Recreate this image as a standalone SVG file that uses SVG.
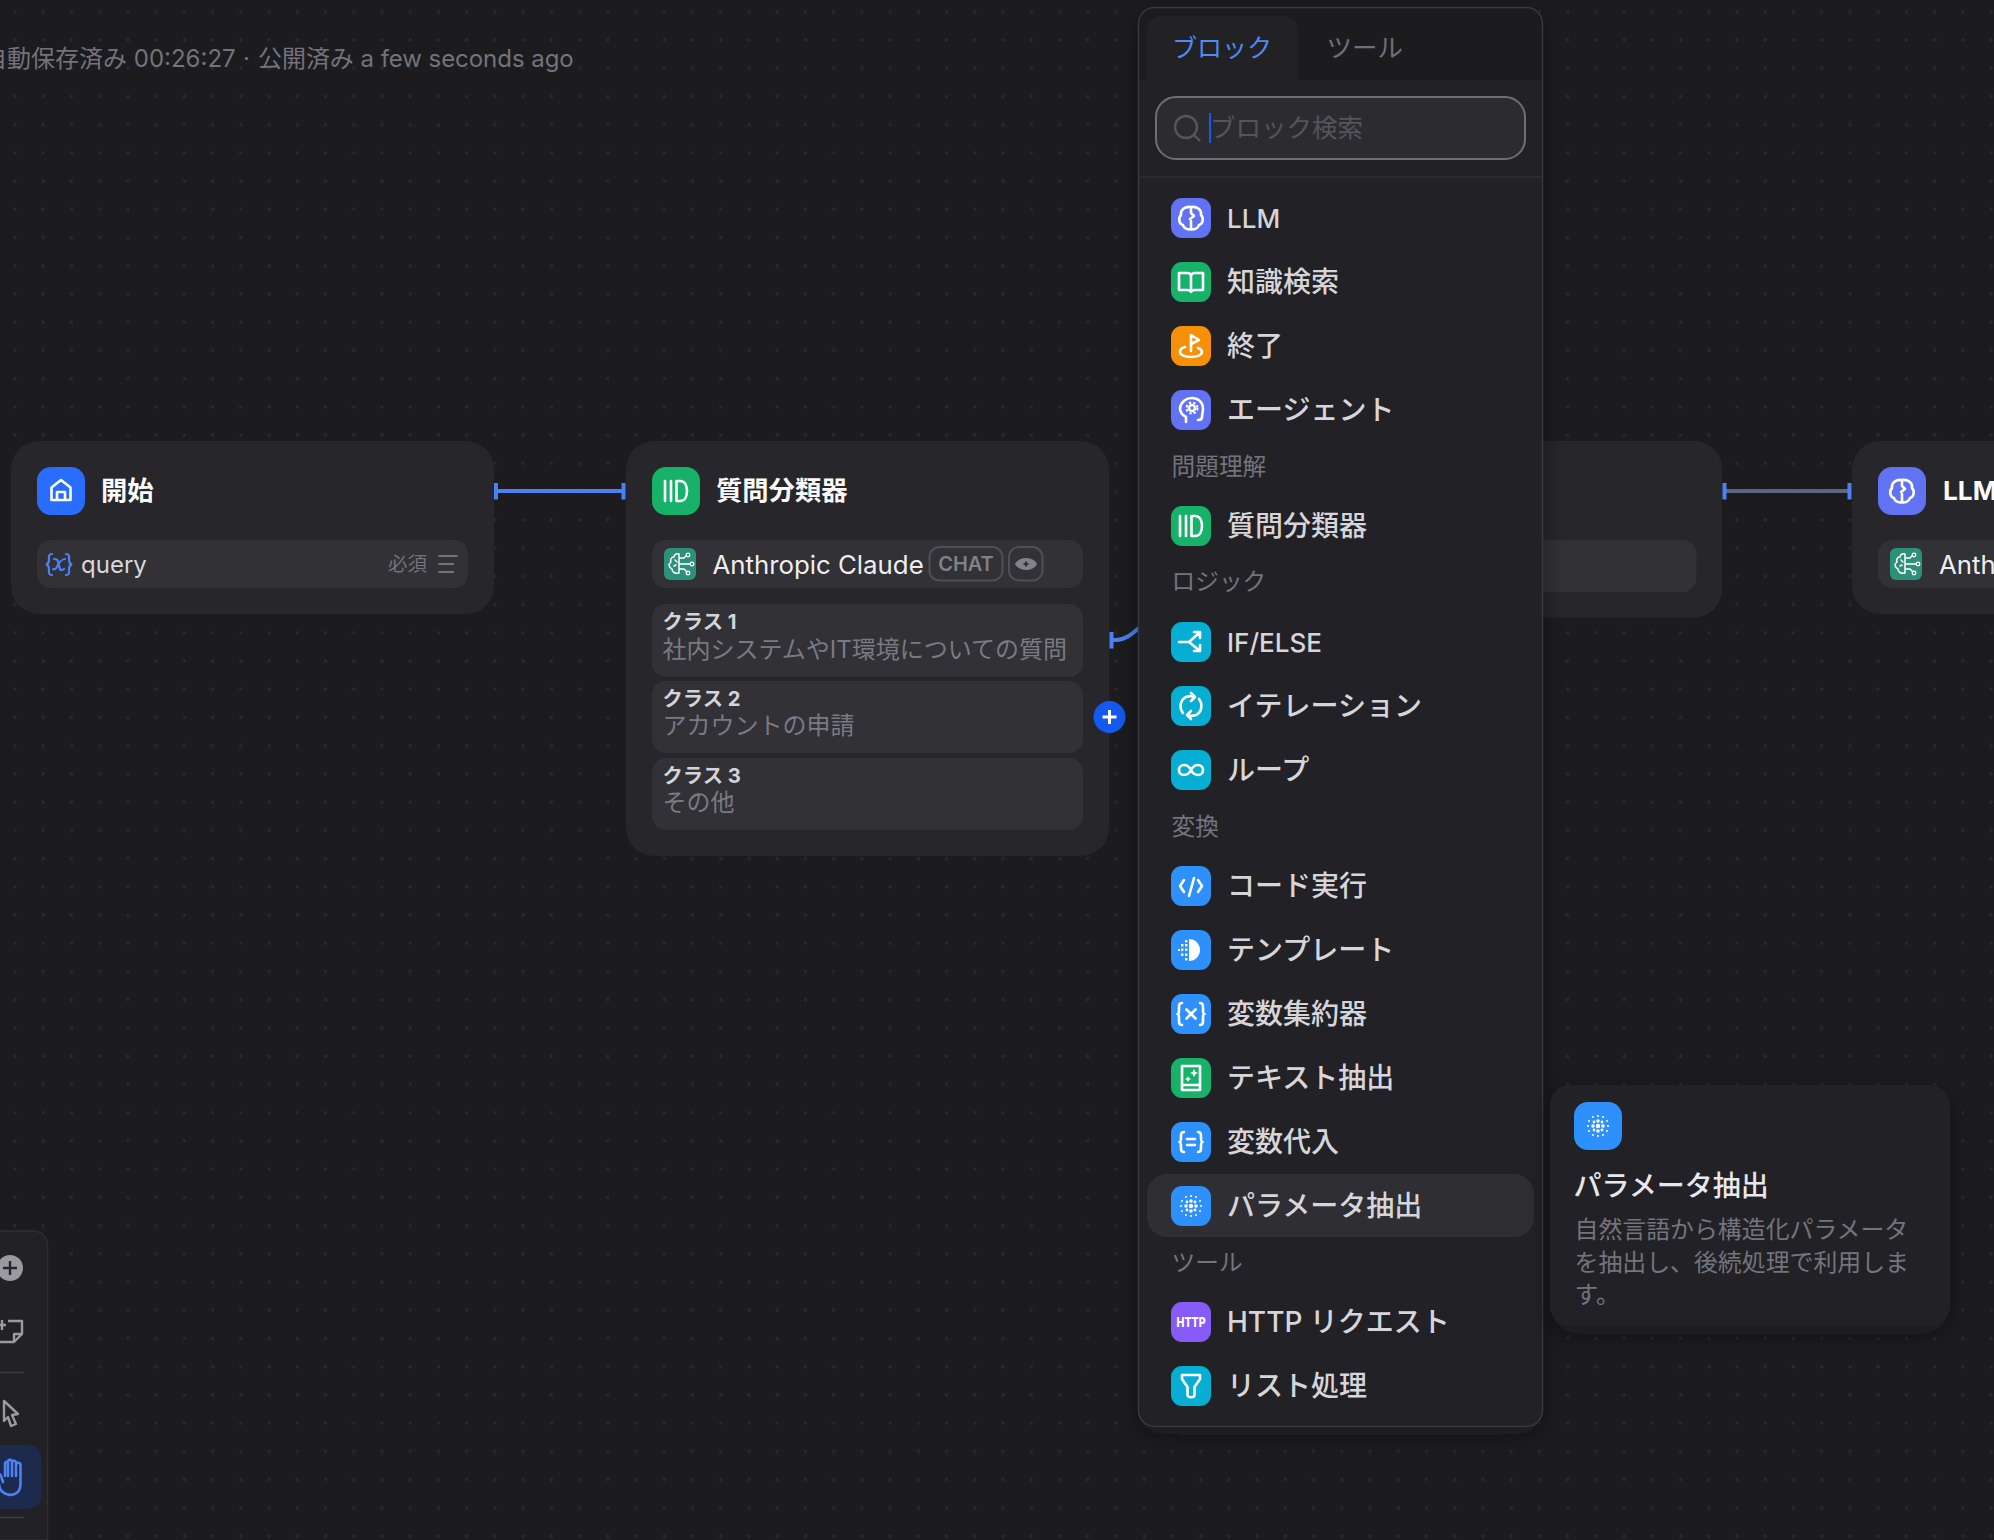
<svg xmlns="http://www.w3.org/2000/svg" width="1994" height="1540" viewBox="0 0 1994 1540">
<style>
text{font-family:Inter,"Noto Sans CJK JP","Noto Sans",sans-serif}
.node{fill:#27272b}
.row{fill:#313136}
.title{font-size:26.300px;font-weight:700;fill:#fafafa}
.item{font-size:28px;font-weight:500;fill:#d6d6da}
.lat{font-size:26px}
.sec{font-size:23.700px;fill:#74747c}
.cn{font-size:20.300px;font-weight:700;fill:#d4d4d8}
.cd{font-size:24px;fill:#7a7a82}
.model{font-size:25.800px;fill:#eeeef0}
.w{fill:none;stroke:#fff;stroke-width:2.600;stroke-linecap:round;stroke-linejoin:round}
.link{fill:none;stroke:#4d80f4;stroke-width:4}
.hnd{fill:#4d80f4}
.tip{font-size:23.900px;fill:#74747c}
.tool{fill:none;stroke:#9a9aa0;stroke-width:2.400;stroke-linejoin:round}
</style>
<defs>
<pattern id="dots" width="28.23" height="28.23" patternUnits="userSpaceOnUse">
<circle cx="15" cy="11.6" r="1.7" fill="#2a2a2e"/>
</pattern>
<filter id="shadow" x="-10%" y="-10%" width="120%" height="120%">
<feDropShadow dx="0" dy="8" stdDeviation="12" flood-color="#18181b" flood-opacity="0.4"/>
</filter>
<g id="i-llm"><path class="w" d="M20 9C14 8 9 12 10 17C7 20 8 26 12 27C13 31 18 32 20 31C22 32 27 31 28 27C32 26 33 20 30 17C31 12 26 8 20 9ZM20 9V15L23 18L19 21M20 23V31"/></g>
<g id="i-book"><path class="w" d="M8 11H16C18 11 20 12 20 14C20 12 22 11 24 11H32V28H24C22 28 20 29 20 30C20 29 18 28 16 28H8ZM20 14V30"/></g>
<g id="i-end"><path class="w" d="M20 25V9L28 14L20 18M14 21C10 22 9 24 9 26C9 29 14 31 20 31C26 31 31 29 31 26C31 24 30 23 27 22"/></g>
<g id="i-agent"><path class="w" d="M15 32V27C11 25 9 22 9 18C10 12 15 8 21 8C27 8 32 12 32 19C32 22 31 24 31 27C31 29 29 30 27 30"/><circle cx="21" cy="18" r="3" fill="none" stroke="#fff" stroke-width="2.6"/><circle cx="21" cy="18" r="5.5" fill="none" stroke="#fff" stroke-width="2" stroke-dasharray="2.4 2"/></g>
<g id="i-class"><path class="w" d="M9 10V30M15 10V30M20.500 10H24C29 10 31 15 31 20C31 25 29 30 24 30H20.500Z"/></g>
<g id="i-if"><path class="w" d="M8 20H18L28 11M18 20L29 29M23 10H29V16M29 23V29H23"/></g>
<g id="i-iter"><path class="w" d="M12 27C8 22 9 14 15 11C18 10 22 10 24 11M20 7L24 11L20 15M28 13C32 18 31 26 25 29C22 30 18 30 16 29M20 33L16 29L20 25"/></g>
<g id="i-loop"><path class="w" d="M20 20C18 16 15 15 13 15C10 15 8 17 8 20C8 23 10 25 13 25C15 25 18 24 20 20C22 16 25 15 27 15C30 15 32 17 32 20C32 23 30 25 27 25C25 25 22 24 20 20Z"/></g>
<g id="i-code"><path class="w" d="M13 14L9 20L13 26M27 14L31 20L27 26M23 12L18 30"/></g>
<g id="i-tpl"><path fill="#fff" d="M18 9A11 11 0 0 1 18 31Z"/><g fill="#fff"><rect x="14" y="10" width="2.400" height="2.400"/><rect x="14" y="14" width="2.400" height="2.400"/><rect x="10" y="14" width="2.400" height="2.400"/><rect x="14" y="18.500" width="2.400" height="2.400"/><rect x="10" y="18.500" width="2.400" height="2.400"/><rect x="7" y="19" width="2" height="2"/><rect x="14" y="23.500" width="2.400" height="2.400"/><rect x="10" y="23.500" width="2.400" height="2.400"/><rect x="14" y="28" width="2.400" height="2.400"/></g></g>
<g id="i-vx"><path class="w" d="M11 9C8 9 8 11 8 14C8 18 8 20 6.500 20C8 20 8 22 8 26C8 29 8 31 11 31M29 9C32 9 32 11 32 14C32 18 32 20 33.500 20C32 20 32 22 32 26C32 29 32 31 29 31M15.500 15.500L24.500 24.500M24.500 15.500L15.500 24.500"/></g>
<g id="i-doc"><path class="w" d="M11 8H29V32H11ZM11 27H29"/><path fill="#fff" d="M23 11L24.500 14L27 15L24.500 16L23 19L21.500 16L19 15L21.500 14ZM17 18L18 20L20 21L18 22L17 24L16 22L14 21L16 20Z"/></g>
<g id="i-va"><path class="w" d="M13 10C10 10 10 12 10 15C10 18 10 20 8.500 20C10 20 10 22 10 25C10 28 10 30 13 30M27 10C30 10 30 12 30 15C30 18 30 20 31.500 20C30 20 30 22 30 25C30 28 30 30 27 30M16 17H24M16 23H24"/></g>
<g id="i-param" fill="#fff"><circle cx="20" cy="20" r="2.200"/><circle cx="20" cy="15" r="1.800"/><circle cx="20" cy="25" r="1.800"/><circle cx="15" cy="20" r="1.800"/><circle cx="25" cy="20" r="1.800"/><circle cx="16" cy="16" r="1.400"/><circle cx="24" cy="16" r="1.400"/><circle cx="16" cy="24" r="1.400"/><circle cx="24" cy="24" r="1.400"/><circle cx="20" cy="10" r="1.100"/><circle cx="20" cy="30" r="1.100"/><circle cx="10" cy="20" r="1.100"/><circle cx="30" cy="20" r="1.100"/><circle cx="15" cy="11" r="1"/><circle cx="25" cy="11" r="1"/><circle cx="15" cy="29" r="1"/><circle cx="25" cy="29" r="1"/><circle cx="11" cy="15" r="1"/><circle cx="29" cy="15" r="1"/><circle cx="11" cy="25" r="1"/><circle cx="29" cy="25" r="1"/></g>
<g id="i-filter"><path class="w" d="M11 9H29V13L23.500 21V29C23.500 32 16.500 32 16.500 29V21L11 13Z"/></g>
<g id="i-model"><path fill="none" stroke="#fff" stroke-width="1.500" stroke-linejoin="round" stroke-linecap="round" d="M15 6C12 5 10 7 10 9C7 9 6 12 7 14C4 16 5 20 8 21C8 24 11 26 15 25V6ZM15 10H20L22 8M15 16H26M15 21H20L23 24M11 12L13 14M10 18L12 17"/><circle cx="24" cy="7" r="1.800" fill="none" stroke="#fff" stroke-width="1.300"/><circle cx="28" cy="16" r="1.800" fill="none" stroke="#fff" stroke-width="1.300"/><circle cx="24" cy="25" r="1.800" fill="none" stroke="#fff" stroke-width="1.300"/></g>
<rect id="b-icon" width="40" height="40" rx="11"/>
</defs>

<rect width="1994" height="1540" fill="#1c1c1f"/>
<rect width="1994" height="1540" fill="url(#dots)"/>

<text x="-17" y="67" font-size="24" fill="#73737b">自動保存済み 00:26:27<tspan x="243">·</tspan><tspan x="258" letter-spacing="-0.05">公開済み a few seconds ago</tspan></text>

<g id="connectors">
<path class="link" d="M497 491H623"/>
<rect class="hnd" x="494" y="483" width="4" height="16.500"/>
<rect class="hnd" x="621.500" y="483" width="4" height="16.500"/>
<path class="link" d="M1112 640H1116C1125 640 1132 634 1139 628"/>
<rect class="hnd" x="1109.500" y="632" width="4" height="16.500"/>
<path d="M1725 491H1850" fill="none" stroke="#5e6580" stroke-width="4"/>
<rect class="hnd" x="1722.500" y="483" width="4" height="16.500"/>
<rect class="hnd" x="1847.500" y="483" width="4" height="16.500"/>
</g>

<g id="node-start">
<rect class="node" x="11" y="441" width="483" height="173" rx="28"/>
<rect x="37" y="467" width="48" height="48" rx="14" fill="#296dff"/>
<path class="w" stroke-width="3" d="M61 480L70.500 487.500V500H51.500V487.500ZM57 500V492H65V500"/>
<text class="title" x="101" y="500">開始</text>
<rect class="row" x="37" y="540" width="431" height="48" rx="14"/>
<path fill="none" stroke="#4d80f4" stroke-width="2.200" stroke-linecap="round" d="M52 554C48 554 49 557 49 560C49 563 48 564 46 564.500C48 565 49 566 49 569C49 572 48 575 52 575M66 554C70 554 69 557 69 560C69 563 70 564 72 564.500C70 565 69 566 69 569C69 572 70 575 66 575M54 559C56 559 58 559 58 562L60 569C60 571 62 570 64 569M65 559C62 559 59 563 58 565C56 569 55 570 53 569"/>
<text x="81" y="573" font-size="24" fill="#d8d8dc">query</text>
<text x="388" y="571" font-size="19.500" fill="#73737b">必須</text>
<path d="M438.500 556H457.500M438.500 564H454M438.500 572H454" fill="none" stroke="#73737b" stroke-width="2"/>
</g>

<g id="node-classifier">
<rect class="node" x="626" y="441" width="483" height="415" rx="28"/>
<rect x="652" y="467" width="48" height="48" rx="14" fill="#17b26a"/>
<use href="#i-class" x="656" y="471"/>
<text class="title" x="716" y="500">質問分類器</text>
<rect class="row" x="652" y="540" width="431" height="48" rx="14"/>
<rect x="664" y="548" width="32" height="32" rx="6" fill="#2d9078"/>
<use href="#i-model" x="664" y="548"/>
<text class="model" x="712.500" y="574">Anthropic Claude</text>
<rect x="929.500" y="547" width="73" height="33.500" rx="10" fill="none" stroke="#4f4f56" stroke-width="2"/>
<text x="966" y="571" font-size="20" font-weight="600" fill="#818189" text-anchor="middle">CHAT</text>
<rect x="1009" y="547" width="33.500" height="33.500" rx="10" fill="none" stroke="#4f4f56" stroke-width="2"/>
<path d="M1015 564C1019 556 1033 556 1037 564C1033 572 1019 572 1015 564Z" fill="#818189"/>
<path d="M1023.500 564H1028.500M1026 561.500V566.500" stroke="#313136" stroke-width="2"/>
<rect class="row" x="652" y="604" width="431" height="73" rx="14"/>
<text class="cn" x="662.500" y="629">クラス 1</text>
<text class="cd" x="662.500" y="657.500">社内システムやIT環境についての質問</text>
<rect class="row" x="652" y="681" width="431" height="72" rx="14"/>
<text class="cn" x="662.500" y="706">クラス 2</text>
<text class="cd" x="662.500" y="733.500">アカウントの申請</text>
<rect class="row" x="652" y="758" width="431" height="72" rx="14"/>
<text class="cn" x="662.500" y="783">クラス 3</text>
<text class="cd" x="662.500" y="810.500">その他</text>
<circle cx="1109.500" cy="717" r="16" fill="#155aef"/>
<path d="M1102.500 717H1116.500M1109.500 710V724" stroke="#fff" stroke-width="3"/>
</g>

<g id="node-hidden">
<rect class="node" x="1480" y="441" width="242" height="176.500" rx="28"/>
<rect class="row" x="1480" y="540" width="216.500" height="52" rx="14"/>
</g>

<g id="node-llm">
<rect class="node" x="1852" y="441" width="180" height="173" rx="28"/>
<rect x="1878" y="467" width="48" height="48" rx="14" fill="#6172f3"/>
<use href="#i-llm" x="1882" y="471"/>
<text class="title" x="1943" y="500">LLM</text>
<rect class="row" x="1878" y="540" width="160" height="48" rx="14"/>
<rect x="1890" y="548" width="32" height="32" rx="6" fill="#2d9078"/>
<use href="#i-model" x="1890" y="548"/>
<text class="model" x="1939" y="574">Anth</text>
</g>

<g id="block-panel">
<rect x="1138.500" y="7.500" width="404" height="1419" rx="16" fill="#222225" filter="url(#shadow)"/>
<path d="M1139 80V23.500A16 16 0 0 1 1155 7.500H1526A16 16 0 0 1 1542 23.500V80Z" fill="#1c1c1f"/>
<path d="M1147 80V30A14 14 0 0 1 1161 16H1284A14 14 0 0 1 1298 30V80Z" fill="#222225"/>
<rect x="1138.500" y="7.500" width="404" height="1419" rx="16" fill="none" stroke="#38383d" stroke-width="1.500"/>
<text x="1172" y="57" font-size="25" fill="#4d8bf5">ブロック</text>
<text x="1326.500" y="57" font-size="25.500" fill="#6f6f77">ツール</text>
<rect x="1156" y="97" width="369" height="62" rx="20" fill="#2c2c30" stroke="#6e6e78" stroke-width="2"/>
<circle cx="1186" cy="127" r="11" fill="none" stroke="#55555c" stroke-width="2.400"/>
<path d="M1194 135L1200 141" stroke="#55555c" stroke-width="2.400"/>
<rect x="1209" y="113" width="2" height="30" fill="#155aef"/>
<text x="1210" y="137" font-size="25.500" fill="#55555c">ブロック検索</text>
<path d="M1139 177H1542" stroke="#2f2f33" stroke-width="1.500"/>
<rect x="1147" y="1174" width="387" height="63" rx="20" fill="#2e2e33"/>

<text class="sec" x="1171.500" y="475">問題理解</text>
<text class="sec" x="1171.500" y="590">ロジック</text>
<text class="sec" x="1171.500" y="835">変換</text>
<text class="sec" x="1171.500" y="1271">ツール</text>

<g id="item-llm"><use href="#b-icon" x="1171" y="198" fill="#6172f3"/><use href="#i-llm" x="1171" y="198"/><text class="item lat" x="1227" y="228">LLM</text></g>
<g id="item-knowledge"><use href="#b-icon" x="1171" y="262" fill="#17b26a"/><use href="#i-book" x="1171" y="262"/><text class="item" x="1227" y="292">知識検索</text></g>
<g id="item-end"><use href="#b-icon" x="1171" y="326" fill="#f79009"/><use href="#i-end" x="1171" y="326"/><text class="item" x="1227" y="356">終了</text></g>
<g id="item-agent"><use href="#b-icon" x="1171" y="390" fill="#6172f3"/><use href="#i-agent" x="1171" y="390"/><text class="item" x="1227" y="420">エージェント</text></g>
<g id="item-classifier"><use href="#b-icon" x="1171" y="506" fill="#17b26a"/><use href="#i-class" x="1171" y="506"/><text class="item" x="1227" y="536">質問分類器</text></g>
<g id="item-ifelse"><use href="#b-icon" x="1171" y="622" fill="#06aed4"/><use href="#i-if" x="1171" y="622"/><text class="item lat" x="1227" y="652">IF/ELSE</text></g>
<g id="item-iter"><use href="#b-icon" x="1171" y="686" fill="#06aed4"/><use href="#i-iter" x="1171" y="686"/><text class="item" x="1227" y="716">イテレーション</text></g>
<g id="item-loop"><use href="#b-icon" x="1171" y="750" fill="#06aed4"/><use href="#i-loop" x="1171" y="750"/><text class="item" x="1227" y="780">ループ</text></g>
<g id="item-code"><use href="#b-icon" x="1171" y="866" fill="#2e90fa"/><use href="#i-code" x="1171" y="866"/><text class="item" x="1227" y="896">コード実行</text></g>
<g id="item-template"><use href="#b-icon" x="1171" y="930" fill="#2e90fa"/><use href="#i-tpl" x="1171" y="930"/><text class="item" x="1227" y="960">テンプレート</text></g>
<g id="item-varagg"><use href="#b-icon" x="1171" y="994" fill="#2e90fa"/><use href="#i-vx" x="1171" y="994"/><text class="item" x="1227" y="1024">変数集約器</text></g>
<g id="item-extract"><use href="#b-icon" x="1171" y="1058" fill="#17b26a"/><use href="#i-doc" x="1171" y="1058"/><text class="item" x="1227" y="1088">テキスト抽出</text></g>
<g id="item-assign"><use href="#b-icon" x="1171" y="1122" fill="#2e90fa"/><use href="#i-va" x="1171" y="1122"/><text class="item" x="1227" y="1152">変数代入</text></g>
<g id="item-param"><use href="#b-icon" x="1171" y="1186" fill="#2e90fa"/><use href="#i-param" x="1171" y="1186"/><text class="item" x="1227" y="1216">パラメータ抽出</text></g>
<g id="item-http"><use href="#b-icon" x="1171" y="1302" fill="#875bf7"/><text x="1191" y="1327" font-size="13.500" font-weight="800" fill="#fff" text-anchor="middle" textLength="29" lengthAdjust="spacingAndGlyphs">HTTP</text><text class="item" x="1227" y="1332">HTTP リクエスト</text></g>
<g id="item-list"><use href="#b-icon" x="1171" y="1366" fill="#06aed4"/><use href="#i-filter" x="1171" y="1366"/><text class="item" x="1227" y="1396">リスト処理</text></g>
</g>

<g id="tooltip">
<rect x="1550" y="1085" width="400" height="241" rx="20" fill="#232326" filter="url(#shadow)"/>
<rect x="1574" y="1102" width="48" height="48" rx="14" fill="#2e90fa"/>
<use href="#i-param" x="1578" y="1106"/>
<text x="1573.500" y="1196" font-size="28" font-weight="500" fill="#e8e8ec">パラメータ抽出</text>
<text class="tip" x="1574.500" y="1238">自然言語から構造化パラメータ</text>
<text class="tip" x="1574.500" y="1271">を抽出し、後続処理で利用しま</text>
<text class="tip" x="1574.500" y="1303">す。</text>
</g>

<g id="toolbar">
<path d="M-2 1231H33A14 14 0 0 1 47.500 1245V1540H-2Z" fill="#222225" stroke="#2f2f33" stroke-width="1.500"/>
<circle cx="10" cy="1268" r="13" fill="#9a9aa0"/>
<path d="M3 1268H17M10 1261V1275" stroke="#27272b" stroke-width="2.400"/>
<path class="tool" d="M8 1321H22V1334L14 1342H-2V1330M22 1334H14V1342M-2 1325H6M2 1320V1330"/>
<path d="M0 1372.500H24M0 1517.500H24" stroke="#3a3a40" stroke-width="1.500"/>
<path class="tool" d="M4 1401L18 1414L12 1415L16 1424L11 1426L8 1417L4 1421Z"/>
<rect x="-20" y="1445" width="61.500" height="64" rx="14" fill="#1c2a4d"/>
<path fill="none" stroke="#4d80f4" stroke-width="2.600" stroke-linecap="round" stroke-linejoin="round" d="M5 1476V1464C5 1461 8 1461 8 1464V1476M8 1464V1462C8 1459 12 1459 12 1462V1476M12 1463C12 1460 16 1460 16 1463V1476M16 1465C16 1462 20.500 1462 20.500 1465V1484C20.500 1500 -1 1497 -1 1484L-4 1476C-5 1473 -1 1472 1 1476L3 1482"/>
</g>
</svg>
